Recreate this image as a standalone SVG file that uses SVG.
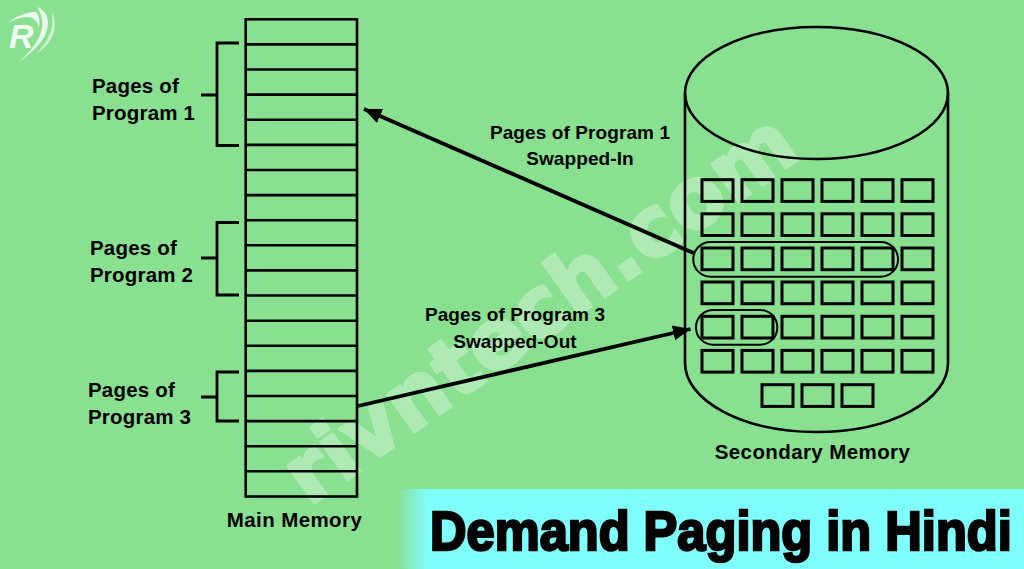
<svg xmlns="http://www.w3.org/2000/svg" width="1024" height="569" viewBox="0 0 1024 569">
<defs>
<style>
.ln{fill:none;stroke:#000;stroke-width:2.6}
.thin{fill:none;stroke:#000;stroke-width:2}
.cell{fill:none;stroke:#000;stroke-width:3}
.br{fill:none;stroke:#000;stroke-width:2.8}
.t{font-family:"Liberation Sans",Arial,sans-serif;font-weight:700;fill:#000}
.l{font-size:20.5px;letter-spacing:.2px}
.s{font-size:19px;letter-spacing:.1px;text-anchor:middle}
.m{font-size:20.5px;letter-spacing:.4px;text-anchor:middle}
.a{stroke:#000;stroke-width:3.8;fill:none}
</style>
<linearGradient id="fade" x1="0" x2="1" y1="0" y2="0"><stop offset="0" stop-color="#80ffff" stop-opacity="0"/><stop offset="1" stop-color="#80ffff"/></linearGradient>
<marker id="head" markerUnits="userSpaceOnUse" markerWidth="20" markerHeight="18" refX="17.5" refY="8" orient="auto"><path d="M0 .4L17.5 8L0 15.6Z" fill="#000"/></marker>
<g id="c"><rect class="cell" x="0" y="0" width="31" height="21.7"/></g>
<g id="row"><use href="#c" x="702"/><use href="#c" x="742"/><use href="#c" x="782"/><use href="#c" x="822"/><use href="#c" x="862"/><use href="#c" x="902"/></g>
</defs>
<rect width="1024" height="569" fill="#88e090"/>
<g opacity=".33">
<text x="0" y="0" transform="translate(309 507) rotate(-35.4)" font-family="DejaVu Sans,sans-serif" font-weight="700" font-size="84" fill="#fff" stroke="#fff" stroke-width="3" textLength="606" lengthAdjust="spacingAndGlyphs">rivntech.com</text>
</g>
<g id="logo" fill="#fff">
<path d="M8 23C16 16 26 12 36 12C39 15 40 20 39 28C37 20 33 17 27 17C20 17 14 20 8 23Z" fill-opacity=".85"/>
<path d="M37 7C46 10 50 18 47 30C44 42 32 52 18 63C30 52 40 40 42 28C43 20 41 13 37 7Z" fill-opacity=".8"/>
<path d="M52 12C56 20 56 28 52 37C48 45 42 50 36 54C44 46 50 36 52 26Z" fill-opacity=".55"/>
<text x="9" y="48" font-size="34" font-style="italic" font-weight="700" font-family="Liberation Sans,sans-serif" fill="#fff" fill-opacity=".9">R</text>
</g>
<g id="main-memory">
<rect class="ln" x="245.7" y="19.3" width="111.3" height="477.2"/>
<path class="ln" d="M245.7 44.4H357M245.7 69.5H357M245.7 94.6H357M245.7 119.8H357M245.7 144.9H357M245.7 170H357M245.7 195.1H357M245.7 220.2H357M245.7 245.3H357M245.7 270.4H357M245.7 295.5H357M245.7 320.7H357M245.7 345.8H357M245.7 370.9H357M245.7 396H357M245.7 421.1H357M245.7 446.2H357M245.7 471.3H357"/>
<text class="t m" x="294.5" y="527">Main Memory</text>
</g>
<g id="program-1"><path class="br" d="M239 43H217V145.5H239M201 95H217"/><text class="t l" x="92" y="93">Pages of</text><text class="t l" x="92" y="120">Program 1</text></g>
<g id="program-2"><path class="br" d="M239 222.5H217V295H239M201 258H217"/><text class="t l" x="90" y="255">Pages of</text><text class="t l" x="90" y="282">Program 2</text></g>
<g id="program-3"><path class="br" d="M239 372H217V421H239M201 397H217"/><text class="t l" x="88" y="397">Pages of</text><text class="t l" x="88" y="424">Program 3</text></g>
<g id="secondary-memory">
<ellipse class="ln" cx="816.5" cy="93" rx="131.5" ry="66"/>
<path class="ln" d="M685 93V363A131.5 69 0 0 0 948 363V93"/>
<use href="#row" y="179.7"/><use href="#row" y="213.8"/><use href="#row" y="248"/><use href="#row" y="282"/><use href="#row" y="316.3"/><use href="#row" y="350.4"/>
<use href="#c" x="762" y="384.7"/><use href="#c" x="802" y="384.7"/><use href="#c" x="842" y="384.7"/>
<rect class="thin" x="693.3" y="242" width="204.7" height="34.7" rx="17.3"/>
<rect class="thin" x="696" y="310" width="81.3" height="34.7" rx="17.3"/>
<text class="t m" x="812.5" y="459">Secondary Memory</text>
</g>
<g id="connectors">
<path class="a" marker-end="url(#head)" d="M693.5 253L364 109"/>
<path class="a" marker-end="url(#head)" d="M358 406L690.5 329"/>
</g>
<text class="t s" x="580" y="138.5">Pages of Program 1</text>
<text class="t s" x="580" y="165">Swapped-In</text>
<text class="t s" x="515" y="321">Pages of Program 3</text>
<text class="t s" x="515" y="348">Swapped-Out</text>
<g id="title">
<rect x="398" y="489" width="30" height="80" fill="url(#fade)"/>
<rect x="428" y="489" width="596" height="80" fill="#80ffff"/>
<text transform="translate(430 549.5) scale(.92 1)" font-family="Liberation Sans,sans-serif" font-weight="700" font-size="55" stroke="#000" stroke-width="2.6">Demand Paging in Hindi</text>
</g>
</svg>
